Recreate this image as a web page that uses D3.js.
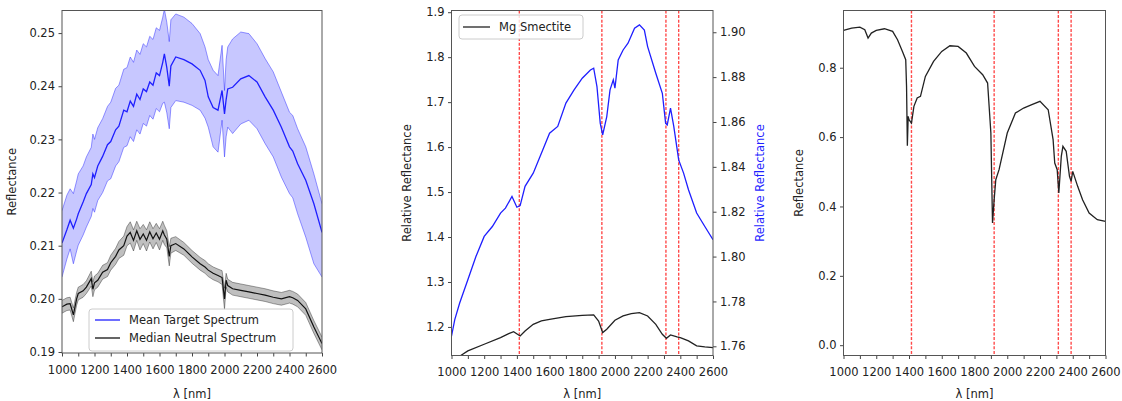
<!DOCTYPE html>
<html><head><meta charset="utf-8">
<script src="https://cdn.jsdelivr.net/npm/d3@7"></script>
<style>body{margin:0;background:#fff}svg{display:block}text{font-family:"DejaVu Sans",sans-serif;fill:#222}</style>
</head><body>
<svg id="c" width="1122" height="401"></svg>
<script>
// ---------- data ----------
const wlA = [1000,1030,1050,1070,1090,1100,1130,1150,1180,1190,1200,1220,1250,1280,1300,1330,1350,1380,1400,1420,1440,1460,1480,1500,1520,1540,1560,1580,1600,1620,1630,1645,1660,1670,1700,1750,1800,1850,1880,1900,1930,1960,1985,2000,2010,2020,2050,2100,2150,2200,2250,2300,2350,2400,2420,2450,2500,2550,2600];
const targetMean = [.2105,.2130,.2148,.2133,.2150,.2160,.2182,.2198,.2215,.2235,.2228,.2250,.2268,.2290,.2296,.2318,.2325,.2355,.2352,.2372,.2362,.2385,.2375,.2395,.2390,.2408,.2402,.2425,.2420,.2445,.2461,.2435,.2400,.2438,.2455,.2450,.2442,.2430,.2411,.2380,.2360,.2355,.2392,.2348,.2375,.2395,.2398,.2414,.2420,.2408,.2380,.2355,.2323,.2286,.2278,.2254,.2223,.2179,.2125];
const targetHigh = [.2166,.2195,.2207,.2198,.2222,.2235,.2250,.2267,.2285,.2310,.2300,.2322,.2339,.2362,.2370,.2396,.2402,.2432,.2435,.2455,.2445,.2468,.2460,.2480,.2474,.2494,.2488,.2510,.2505,.2530,.2545,.2520,.2484,.2525,.2536,.2530,.2518,.2499,.2474,.2450,.2430,.2420,.2477,.2392,.2450,.2474,.2489,.2502,.2499,.2480,.2452,.2427,.2389,.2351,.2345,.2320,.2286,.2235,.2179];
const targetLow = [.2041,.2075,.2094,.2066,.2090,.2101,.2120,.2135,.2155,.2170,.2163,.2185,.2200,.2222,.2226,.2250,.2258,.2285,.2288,.2305,.2296,.2318,.2310,.2330,.2325,.2345,.2338,.2358,.2352,.2368,.2370,.2350,.2320,.2360,.2373,.2370,.2364,.2355,.2340,.2323,.2286,.2276,.2336,.2267,.2305,.2323,.2311,.2329,.2336,.2320,.2292,.2267,.2229,.2198,.2190,.2160,.2116,.2066,.2041];
const neutralMedian = [.1985,.1990,.1991,.1970,.2000,.2010,.2015,.2022,.2038,.2018,.2030,.2035,.2050,.2055,.2068,.2080,.2092,.2100,.2118,.2125,.2110,.2128,.2112,.2122,.2110,.2126,.2113,.2124,.2112,.2128,.2120,.2112,.2080,.2100,.2104,.2094,.2079,.2066,.2060,.2054,.2048,.2044,.2040,.2000,.2035,.2025,.2019,.2016,.2013,.2010,.2007,.2003,.2000,.2004,.2002,.1997,.1981,.1947,.1916];
const neutralHigh = [.1997,.2002,.2003,.1983,.2012,.2022,.2027,.2034,.2052,.2032,.2043,.2048,.2063,.2068,.2082,.2095,.2108,.2118,.2136,.2145,.2130,.2146,.2132,.2140,.2130,.2145,.2132,.2142,.2132,.2146,.2138,.2128,.2098,.2114,.2117,.2106,.2091,.2078,.2072,.2066,.2060,.2056,.2053,.2020,.2048,.2037,.2031,.2028,.2025,.2022,.2019,.2015,.2012,.2016,.2014,.2009,.1993,.1959,.1928];
const neutralLow = [.1973,.1978,.1979,.1957,.1988,.1998,.2003,.2010,.2024,.2004,.2017,.2022,.2037,.2042,.2054,.2065,.2076,.2082,.2100,.2105,.2090,.2110,.2092,.2104,.2090,.2107,.2094,.2106,.2092,.2110,.2102,.2096,.2062,.2086,.2091,.2082,.2067,.2054,.2048,.2042,.2036,.2032,.2027,.1980,.2022,.2013,.2007,.2004,.2001,.1998,.1995,.1991,.1988,.1992,.1990,.1985,.1969,.1935,.1904];

const wlSmecK = [1000,1050,1100,1200,1300,1350,1380,1420,1450,1500,1550,1600,1700,1800,1870,1900,1925,1950,2000,2050,2100,2150,2200,2250,2290,2315,2340,2380,2400,2450,2500,2550,2600];
const smectiteLib = [1.1333,1.135,1.1467,1.1615,1.1763,1.1852,1.1896,1.180,1.1911,1.2059,1.2133,1.217,1.223,1.2259,1.2267,1.2133,1.1874,1.1948,1.2148,1.2244,1.2296,1.2319,1.2244,1.2059,1.1837,1.1748,1.1822,1.1778,1.1763,1.1689,1.1578,1.1556,1.1541];
const wlSmecB = [1000,1020,1050,1100,1150,1200,1250,1300,1330,1370,1400,1420,1450,1500,1550,1600,1650,1700,1750,1800,1850,1870,1890,1910,1925,1950,1970,1990,2000,2020,2050,2080,2120,2150,2180,2200,2250,2290,2310,2320,2340,2360,2390,2420,2450,2500,2550,2600];
const smectiteRatio = [1.7645,1.7719,1.7793,1.7897,1.8001,1.809,1.8134,1.8194,1.8216,1.8268,1.822,1.8227,1.8313,1.8372,1.8461,1.855,1.858,1.8684,1.8743,1.8795,1.8832,1.884,1.8758,1.8595,1.8543,1.8624,1.8743,1.8788,1.8751,1.8877,1.8921,1.8951,1.9018,1.9033,1.901,1.8936,1.8817,1.8728,1.8595,1.8587,1.8662,1.858,1.8431,1.8372,1.8298,1.8194,1.8134,1.8075];

const wlLab = [1000,1050,1100,1130,1150,1170,1200,1250,1300,1330,1360,1380,1385,1390,1395,1400,1415,1430,1450,1470,1500,1550,1600,1650,1700,1750,1800,1850,1880,1900,1910,1920,1930,1950,2000,2050,2100,2150,2200,2250,2280,2290,2305,2315,2330,2340,2360,2380,2390,2400,2430,2460,2500,2550,2600];
const labReflectance = [.9076,.9143,.9172,.9095,.8855,.8999,.9076,.9124,.9047,.8807,.8471,.823,.7462,.5752,.6597,.6501,.6405,.6886,.7126,.7174,.775,.8183,.8471,.8634,.8615,.8423,.8038,.7798,.7558,.6117,.3524,.4196,.4772,.5061,.6117,.6694,.6838,.6934,.703,.679,.5925,.5253,.5061,.4388,.5445,.5733,.5589,.4868,.4724,.5013,.458,.4196,.3812,.362,.3572];

const bandCenters = [1415,1920,2312,2390];
const xTicks = [1000,1100,1200,1300,1400,1500,1600,1700,1800,1900,2000,2100,2200,2300,2400,2500,2600];
const xTickLabels = [1000,1200,1400,1600,1800,2000,2200,2400,2600];
const yTicksA = [0.19,0.20,0.21,0.22,0.23,0.24,0.25];
const yTicksB = [1.2,1.3,1.4,1.5,1.6,1.7,1.8,1.9];
const yTicksB2 = [1.76,1.78,1.80,1.82,1.84,1.86,1.88,1.90];
const yTicksC = [0.0,0.2,0.4,0.6,0.8];
const legendA = ["Mean Target Spectrum","Median Neutral Spectrum"];
const legendB = ["Mg Smectite"];

// ---------- drawing ----------
const svg = d3.select("#c");
const FS = 11.5;
const BLUE = "#1f1fff";
const zip = (xs, ys) => xs.map((x,i)=>[x, ys[i]]);

function panel(o){
  const g = svg.append("g");
  const x = d3.scaleLinear().domain([1000,2600]).range([o.x0,o.x1]);
  const y = d3.scaleLinear().domain(o.yd).range([o.y1,o.y0]);
  const clipId = "clip"+Math.round(o.x0);
  svg.append("clipPath").attr("id",clipId).append("rect")
    .attr("x",o.x0).attr("y",o.y0).attr("width",o.x1-o.x0).attr("height",o.y1-o.y0);
  const plot = g.append("g").attr("clip-path",`url(#${clipId})`);
  const xa = g.append("g").attr("transform",`translate(0,${o.y1})`)
    .call(d3.axisBottom(x).tickValues(xTicks).tickSize(3.5).tickPadding(9)
      .tickFormat(d => xTickLabels.includes(d) ? d : ""));
  const ya = g.append("g").attr("transform",`translate(${o.x0},0)`)
    .call(d3.axisLeft(y).tickValues(o.yt).tickSize(3.5).tickPadding(3.5).tickFormat(d3.format(o.yf)));
  [xa,ya].forEach(a=>{
    a.select(".domain").remove();
    a.selectAll("line").attr("stroke","#444");
    a.selectAll("text").attr("font-size",FS).attr("fill","#222");
  });
  g.append("text").attr("x",(o.x0+o.x1)/2).attr("y",398).attr("text-anchor","middle")
    .attr("font-size",FS).text("λ [nm]");
  g.append("text").attr("transform",`translate(${o.ylx},${(o.y0+o.y1)/2}) rotate(-90)`)
    .attr("text-anchor","middle").attr("font-size",FS).text(o.ylabel);
  return {g, plot, x, y};
}
function frame(o){
  svg.append("rect").attr("x",o.x0).attr("y",o.y0).attr("width",o.x1-o.x0).attr("height",o.y1-o.y0)
    .attr("fill","none").attr("stroke","#555").attr("stroke-width",1);
}
function bands(p, o){
  bandCenters.forEach(c=>{
    p.plot.append("line").attr("x1",p.x(c)).attr("x2",p.x(c)).attr("y1",o.y0).attr("y2",o.y1)
      .attr("stroke","#ff2a2a").attr("stroke-width",1.4).attr("stroke-dasharray","3,1.6").attr("stroke-opacity",0.85);
  });
}

// Panel A
const oA = {x0:62,x1:322,y0:10.5,y1:353,yd:[0.18981,0.25425],yt:yTicksA,yf:".2f",ylx:16,ylabel:"Reflectance"};
const A = panel(oA);
const area = (p, lo, hi) => d3.area().x((d,i)=>p.x(wlA[i])).y0((d,i)=>p.y(lo[i])).y1((d,i)=>p.y(hi[i]))(wlA);
const line = (p, xs, ys) => d3.line().x(d=>p.x(d[0])).y(d=>p.y(d[1]))(zip(xs,ys));
A.plot.append("path").attr("d",area(A,targetLow,targetHigh)).attr("fill","#0000ff").attr("fill-opacity",0.22);
A.plot.append("path").attr("d",line(A,wlA,targetHigh)).attr("fill","none").attr("stroke",BLUE).attr("stroke-opacity",0.45).attr("stroke-width",1);
A.plot.append("path").attr("d",line(A,wlA,targetLow)).attr("fill","none").attr("stroke",BLUE).attr("stroke-opacity",0.45).attr("stroke-width",1);
A.plot.append("path").attr("d",line(A,wlA,targetMean)).attr("fill","none").attr("stroke",BLUE).attr("stroke-width",1.3);
A.plot.append("path").attr("d",area(A,neutralLow,neutralHigh)).attr("fill","#000").attr("fill-opacity",0.25);
A.plot.append("path").attr("d",line(A,wlA,neutralHigh)).attr("fill","none").attr("stroke","#000").attr("stroke-opacity",0.45).attr("stroke-width",0.8);
A.plot.append("path").attr("d",line(A,wlA,neutralLow)).attr("fill","none").attr("stroke","#000").attr("stroke-opacity",0.45).attr("stroke-width",0.8);
A.plot.append("path").attr("d",line(A,wlA,neutralMedian)).attr("fill","none").attr("stroke","#111").attr("stroke-width",1.2);
frame(oA);
const lgA = svg.append("g");
lgA.append("rect").attr("x",89).attr("y",309).attr("width",204).attr("height",42).attr("rx",3)
  .attr("fill","#fff").attr("fill-opacity",0.8).attr("stroke","#ccc");
legendA.forEach((t,i)=>{
  const yy = 320 + i*18;
  lgA.append("line").attr("x1",95).attr("x2",120).attr("y1",yy).attr("y2",yy)
    .attr("stroke", i===0?BLUE:"#111").attr("stroke-width",1.3);
  lgA.append("text").attr("x",129).attr("y",yy+4).attr("font-size",FS).text(t);
});

// Panel B
const oB = {x0:451.5,x1:713,y0:10.5,y1:355.5,yd:[1.1365,1.9038],yt:yTicksB,yf:".1f",ylx:411,ylabel:"Relative Reflectance"};
const B = panel(oB);
const yB2 = d3.scaleLinear().domain([1.7559,1.9097]).range([oB.y1,oB.y0]);
bands(B, oB);
B.plot.append("path").attr("d",line(B,wlSmecK,smectiteLib)).attr("fill","none").attr("stroke","#222").attr("stroke-width",1.3);
B.plot.append("path").attr("d",d3.line().x(d=>B.x(d[0])).y(d=>yB2(d[1]))(zip(wlSmecB,smectiteRatio)))
  .attr("fill","none").attr("stroke",BLUE).attr("stroke-width",1.3);
const yb2 = svg.append("g").attr("transform",`translate(${oB.x1},0)`)
  .call(d3.axisRight(yB2).tickValues(yTicksB2).tickSize(3.5).tickPadding(3.5).tickFormat(d3.format(".2f")));
yb2.select(".domain").remove();
yb2.selectAll("line").attr("stroke","#444");
yb2.selectAll("text").attr("font-size",FS).attr("fill","#222");
svg.append("text").attr("transform",`translate(764,${(oB.y0+oB.y1)/2}) rotate(-90)`)
  .attr("text-anchor","middle").attr("font-size",FS).style("fill","#1f1fff").text("Relative Reflectance");
frame(oB);
const lgB = svg.append("g");
lgB.append("rect").attr("x",459).attr("y",15).attr("width",124).attr("height",24).attr("rx",3)
  .attr("fill","#fff").attr("fill-opacity",0.8).attr("stroke","#ccc");
legendB.forEach((t,i)=>{
  lgB.append("line").attr("x1",463).attr("x2",490).attr("y1",27).attr("y2",27).attr("stroke","#222").attr("stroke-width",1.3);
  lgB.append("text").attr("x",499).attr("y",31).attr("font-size",FS).text(t);
});

// Panel C
const oC = {x0:843.5,x1:1105.5,y0:10.5,y1:355.5,yd:[-0.0297,0.965],yt:yTicksC,yf:".1f",ylx:803,ylabel:"Reflectance"};
const C = panel(oC);
bands(C, oC);
C.plot.append("path").attr("d",line(C,wlLab,labReflectance)).attr("fill","none").attr("stroke","#222").attr("stroke-width",1.3);
frame(oC);
</script>
</body></html>
